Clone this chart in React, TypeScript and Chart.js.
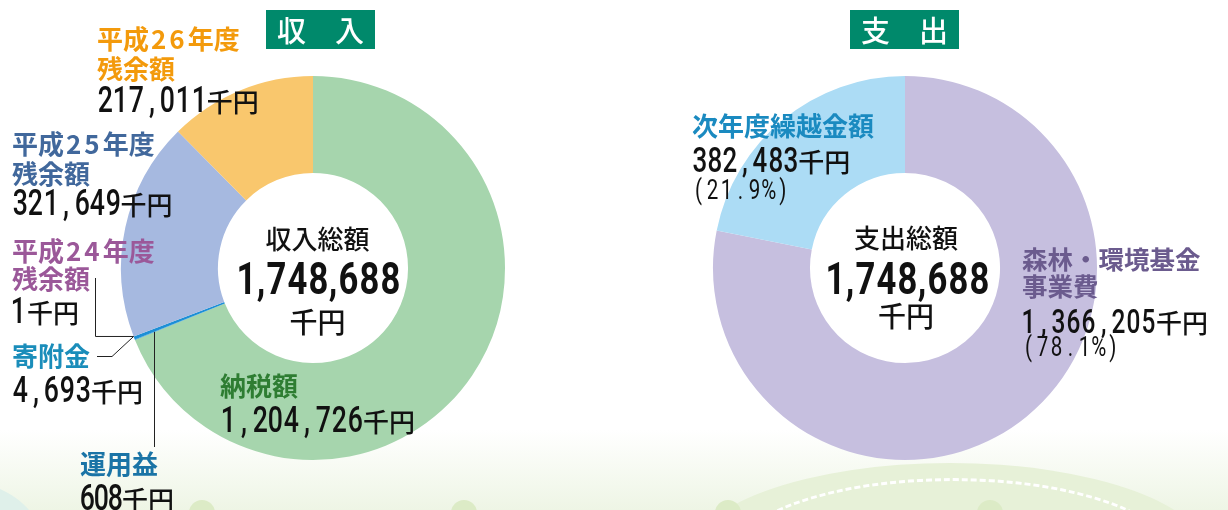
import React, { useEffect, useRef } from "react";
import { Chart, registerables } from "chart.js";

Chart.register(...registerables);

// ---------- data ----------
const incomeLabels = ["納税額", "運用益", "寄附金", "平成24年度残余額", "平成25年度残余額", "平成26年度残余額"];
const incomeValues = [1204726, 608, 4693, 1, 321649, 217011];
const incomeColors = ["#a6d5ad", "#1c8fd6", "#1c8fd6", "#a6b9e0", "#a6b9e0", "#f9c76d"];

const expenseLabels = ["森林・環境基金事業費", "次年度繰越金額"];
const expenseValues = [1366205, 382483];
const expenseColors = ["#c6bfdf", "#acdcf5"];

const CJK = '"Noto Sans CJK JP", "Noto Sans CJK SC", sans-serif';
const NUM = 'Roboto, "Liberation Sans", sans-serif';

const fmt = (v: number) => v.toLocaleString("en-US");
const sum = (a: number[]) => a.reduce((s, v) => s + v, 0);
const pct = (v: number, a: number[]) => ((v / sum(a)) * 100).toFixed(1);

// leader lines for the small income slices
const leaderPlugin = {
  id: "leaders",
  afterDatasetsDraw(chart: any) {
    const arcs = chart.getDatasetMeta(0).data;
    if (!arcs || arcs.length < 5) return;
    const ctx = chart.ctx;
    const a3 = arcs[3];
    const ang = a3.endAngle;
    const px = a3.x + a3.outerRadius * Math.cos(ang);
    const py = a3.y + a3.outerRadius * Math.sin(ang);
    const a1 = arcs[1];
    const mid = (a1.startAngle + a1.endAngle) / 2;
    const qx = 154.5;
    const t = (qx - a1.x) / Math.cos(mid);
    const qy = a1.y + t * Math.sin(mid);
    ctx.save();
    ctx.strokeStyle = "#222";
    ctx.lineWidth = 1;
    ctx.beginPath();
    ctx.moveTo(95.5, 278);
    ctx.lineTo(95.5, py);
    ctx.lineTo(px, py);
    ctx.stroke();
    ctx.beginPath();
    ctx.moveTo(97, 356.5);
    ctx.lineTo(112, 356.5);
    ctx.lineTo(px, py);
    ctx.stroke();
    ctx.beginPath();
    ctx.moveTo(qx, qy);
    ctx.lineTo(qx, 447);
    ctx.stroke();
    ctx.restore();
  },
};

function Doughnut(props: {
  labels: string[];
  values: number[];
  colors: string[];
  left: number;
  pad: { left: number; right: number; top: number; bottom: number };
  plugins?: any[];
}) {
  const ref = useRef<HTMLCanvasElement | null>(null);
  useEffect(() => {
    if (!ref.current) return;
    const chart = new Chart(ref.current, {
      type: "doughnut",
      data: {
        labels: props.labels,
        datasets: [
          {
            data: props.values,
            backgroundColor: props.colors,
            borderWidth: 0,
            hoverOffset: 0,
          },
        ],
      },
      options: {
        responsive: false,
        animation: false,
        cutout: "49.5%",
        layout: { padding: props.pad },
        plugins: { legend: { display: false }, tooltip: { enabled: false } },
        events: [],
      },
      plugins: props.plugins || [],
    } as any);
    return () => chart.destroy();
  }, []);
  return (
    <canvas
      ref={ref}
      width={614}
      height={510}
      style={{ position: "absolute", left: props.left, top: 0, width: 614, height: 510, zIndex: 2 }}
    />
  );
}

// condensed, cell-spaced number text
function NumText(props: { text: string; pitch: number; punctPitch?: number; sx: number; weight?: number }) {
  const chars = props.text.split("");
  return (
    <>
      {chars.map((c, i) => {
        const isDigit = /[0-9]/.test(c);
        const w = isDigit ? props.pitch : props.punctPitch ?? props.pitch;
        return (
          <span
            key={i}
            style={{
              display: "inline-flex",
              justifyContent: "center",
              width: w,
              fontWeight: props.weight ?? 500,
            }}
          >
            <span style={{ display: "inline-block", transform: `scaleX(${props.sx})` }}>{c}</span>
          </span>
        );
      })}
    </>
  );
}

function Label(props: { x: number; y: number; color: string; children: any; size?: number }) {
  return (
    <div
      style={{
        position: "absolute",
        left: props.x,
        top: props.y,
        fontFamily: CJK,
        fontWeight: 700,
        fontSize: props.size || 26,
        lineHeight: 1,
        color: props.color,
        whiteSpace: "nowrap",
        zIndex: 3,
      }}
    >
      {props.children}
    </div>
  );
}

function Yen(props: { x: number; y: number; value: string; pitch?: number; size?: number }) {
  const size = props.size ?? 36;
  return (
    <div
      style={{
        position: "absolute",
        left: props.x,
        top: props.y - 0.131 * size,
        fontFamily: NUM,
        fontSize: size,
        lineHeight: 1,
        color: "#111",
        whiteSpace: "nowrap",
        zIndex: 3,
      }}
    >
      <NumText text={props.value} pitch={props.pitch ?? 15.5} sx={0.74} />
      <span style={{ fontFamily: CJK, fontSize: 26, fontWeight: 500 }}>千円</span>
    </div>
  );
}

function Pct(props: { x: number; y: number; value: string }) {
  return (
    <div
      style={{
        position: "absolute",
        left: props.x,
        top: props.y,
        fontFamily: NUM,
        fontSize: 27,
        lineHeight: 1,
        color: "#111",
        whiteSpace: "nowrap",
        zIndex: 3,
      }}
    >
      <NumText text={"(" + props.value + "%)"} pitch={14} sx={0.76} weight={400} />
    </div>
  );
}

function Center(props: { cx: number; y1: number; y2: number; y3: number; title: string; total: string }) {
  const base: any = {
    position: "absolute",
    lineHeight: 1,
    whiteSpace: "nowrap",
    color: "#111",
    transform: "translateX(-50%)",
    zIndex: 3,
  };
  return (
    <>
      <div style={{ ...base, left: props.cx, top: props.y1, fontFamily: CJK, fontSize: 26, fontWeight: 500 }}>
        {props.title}
      </div>
      <div style={{ ...base, left: props.cx + 1, top: props.y2, fontFamily: NUM, fontSize: 45 }}>
        <NumText text={props.total} pitch={21} punctPitch={9} sx={0.77} weight={700} />
      </div>
      <div style={{ ...base, left: props.cx, top: props.y3, fontFamily: CJK, fontSize: 28, fontWeight: 500 }}>
        千円
      </div>
    </>
  );
}

function TitleBox(props: { x: number; text: string }) {
  return (
    <div
      style={{
        position: "absolute",
        left: props.x,
        top: 10,
        width: 109,
        height: 39,
        background: "#00896b",
        color: "#fff",
        fontFamily: CJK,
        fontSize: 29,
        fontWeight: 500,
        lineHeight: "39px",
        textAlign: "center",
        zIndex: 3,
      }}
    >
      {props.text}
    </div>
  );
}

const Digits = (p: { d: string }) => <span style={{ letterSpacing: 3, marginLeft: 2 }}>{p.d}</span>;

export default function App() {
  const total = fmt(sum(incomeValues));
  const totalE = fmt(sum(expenseValues));
  return (
    <div
      style={{
        position: "absolute",
        left: 0,
        top: 0,
        width: 1228,
        height: 510,
        overflow: "hidden",
        background: "#fff",
      }}
    >
      {/* decorative background */}
      <div
        style={{
          position: "absolute",
          left: 0,
          top: 430,
          width: 1228,
          height: 80,
          background: "linear-gradient(to bottom, rgba(255,255,255,0), #eef5e5)",
          zIndex: 0,
        }}
      />
      <div
        style={{
          position: "absolute",
          left: 690,
          top: 463,
          width: 520,
          height: 190,
          borderRadius: "50%",
          background: "#e7f1d8",
          zIndex: 1,
        }}
      />
      <div
        style={{
          position: "absolute",
          left: 728,
          top: 478,
          width: 444,
          height: 160,
          borderRadius: "50%",
          border: "3px dashed #ffffff",
          zIndex: 1,
        }}
      />
      {[202, 464, 728, 990].map((x) => (
        <div
          key={x}
          style={{
            position: "absolute",
            left: x - 13,
            top: 500,
            width: 26,
            height: 26,
            borderRadius: "50%",
            background: "#dcebc6",
            zIndex: 1,
          }}
        />
      ))}
      <div
        style={{
          position: "absolute",
          left: -150,
          top: 478,
          width: 190,
          height: 120,
          borderRadius: "50%",
          background: "#dff0ea",
          zIndex: 1,
        }}
      />

      <Doughnut
        labels={incomeLabels}
        values={incomeValues}
        colors={incomeColors}
        left={0}
        pad={{ left: 121, right: 109, top: 76, bottom: 50 }}
        plugins={[leaderPlugin]}
      />
      <Doughnut
        labels={expenseLabels}
        values={expenseValues}
        colors={expenseColors}
        left={614}
        pad={{ left: 99, right: 131, top: 76, bottom: 50 }}
      />

      <TitleBox x={266} text="収　入" />
      <TitleBox x={850} text="支　出" />

      {/* income labels */}
      <Label x={97} y={25} color="#f39a0c">
        平成<Digits d="26" />年度
      </Label>
      <Label x={97} y={55} color="#f39a0c">残余額</Label>
      <Yen x={97} y={87} value={fmt(incomeValues[5])} pitch={15.7} />

      <Label x={12} y={130} color="#41689c">
        平成<Digits d="25" />年度
      </Label>
      <Label x={12} y={160} color="#41689c">残余額</Label>
      <Yen x={12} y={190} value={fmt(incomeValues[4])} pitch={15.5} />

      <Label x={12} y={237} color="#9b5899">
        平成<Digits d="24" />年度
      </Label>
      <Label x={12} y={265} color="#9b5899">残余額</Label>
      <Yen x={10} y={298} value={fmt(incomeValues[3])} pitch={17} />

      <Label x={12} y={342} color="#1a8dba">寄附金</Label>
      <Yen x={12} y={377} value={fmt(incomeValues[2])} pitch={15.8} />

      <Label x={80} y={450} color="#1a74a6">運用益</Label>
      <Yen x={80} y={485} value={fmt(incomeValues[1])} pitch={14} />

      <Label x={220} y={372} color="#2e7d32">納税額</Label>
      <Yen x={220} y={407} value={fmt(incomeValues[0])} pitch={15.9} />

      <Center cx={317.5} y1={225} y2={256} y3={306.5} title="収入総額" total={total} />

      {/* expense labels */}
      <Label x={692} y={112} color="#1a8ac0">次年度繰越金額</Label>
      <Yen x={692} y={148} value={fmt(expenseValues[1])} pitch={15.2} size={35} />
      <Pct x={692} y={177} value={pct(expenseValues[1], expenseValues)} />

      <Label x={1022} y={245} color="#6b5b8e" size={25.5}>森林・環境基金</Label>
      <Label x={1022} y={272} color="#6b5b8e" size={25.5}>事業費</Label>
      <Yen x={1021} y={309} value={fmt(expenseValues[0])} pitch={15} size={33} />
      <Pct x={1022} y={333.5} value={pct(expenseValues[0], expenseValues)} />

      <Center cx={906} y1={224} y2={256} y3={301} title="支出総額" total={totalE} />
    </div>
  );
}
